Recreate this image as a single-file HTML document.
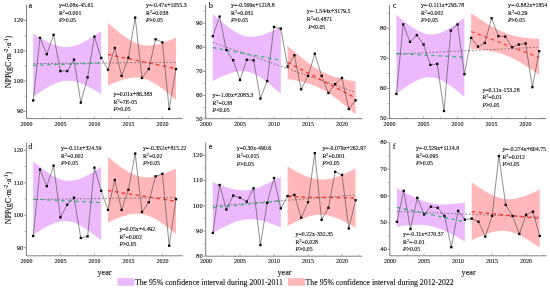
<!DOCTYPE html>
<html><head><meta charset="utf-8"><style>
html,body{margin:0;padding:0;background:#fff;}
svg{display:block;filter:blur(0.35px);}
text{font-family:"Liberation Serif",serif;fill:#111;stroke:#111;stroke-width:0.12px;}
.t{font-size:5.85px;}
.sup{font-size:4.2px;}
.sup2{font-size:5.2px;}
.tk{font-size:6px;fill:#111;}
.tky{font-size:6.6px;fill:#111;}
.lab{font-size:8.4px;}
.yt{font-size:7.9px;}
.yr{font-size:8.2px;}
.lg{font-size:8.1px;}
</style></head><body>
<svg width="550" height="290" viewBox="0 0 550 290">
<rect width="550" height="290" fill="#fff"/>
<path d="M33.20,33.60 L34.90,34.66 L36.60,35.70 L38.30,36.72 L40.00,37.72 L41.70,38.70 L43.40,39.65 L45.10,40.56 L46.80,41.44 L48.50,42.28 L50.20,43.07 L51.90,43.81 L53.60,44.50 L55.30,45.12 L57.00,45.67 L58.70,46.14 L60.40,46.53 L62.10,46.82 L63.80,47.02 L65.50,47.11 L67.20,47.10 L68.90,46.98 L70.60,46.76 L72.30,46.43 L74.00,46.01 L75.70,45.49 L77.40,44.89 L79.10,44.21 L80.80,43.46 L82.50,42.64 L84.20,41.77 L85.90,40.85 L87.60,39.88 L89.30,38.87 L91.00,37.83 L92.70,36.75 L94.40,35.64 L96.10,34.51 L97.80,33.36 L99.50,32.19 L101.20,31.00 L101.20,94.20 L99.50,93.14 L97.80,92.10 L96.10,91.08 L94.40,90.08 L92.70,89.10 L91.00,88.15 L89.30,87.24 L87.60,86.36 L85.90,85.52 L84.20,84.73 L82.50,83.99 L80.80,83.30 L79.10,82.68 L77.40,82.13 L75.70,81.66 L74.00,81.27 L72.30,80.98 L70.60,80.78 L68.90,80.69 L67.20,80.70 L65.50,80.82 L63.80,81.04 L62.10,81.37 L60.40,81.79 L58.70,82.31 L57.00,82.91 L55.30,83.59 L53.60,84.34 L51.90,85.16 L50.20,86.03 L48.50,86.95 L46.80,87.92 L45.10,88.93 L43.40,89.97 L41.70,91.05 L40.00,92.16 L38.30,93.29 L36.60,94.44 L34.90,95.61 L33.20,96.80Z" fill="#ecb9fc"/>
<path d="M108.00,23.00 L109.70,24.48 L111.40,25.95 L113.10,27.39 L114.80,28.81 L116.50,30.21 L118.20,31.58 L119.90,32.92 L121.60,34.23 L123.30,35.49 L125.00,36.71 L126.70,37.88 L128.40,38.99 L130.10,40.04 L131.80,41.01 L133.50,41.91 L135.20,42.72 L136.90,43.44 L138.60,44.07 L140.30,44.59 L142.00,45.00 L143.70,45.31 L145.40,45.51 L147.10,45.60 L148.80,45.60 L150.50,45.51 L152.20,45.33 L153.90,45.08 L155.60,44.75 L157.30,44.36 L159.00,43.91 L160.70,43.41 L162.40,42.87 L164.10,42.28 L165.80,41.66 L167.50,41.01 L169.20,40.33 L170.90,39.63 L172.60,38.91 L174.30,38.16 L176.00,37.40 L176.00,100.00 L174.30,98.52 L172.60,97.05 L170.90,95.61 L169.20,94.19 L167.50,92.79 L165.80,91.42 L164.10,90.08 L162.40,88.77 L160.70,87.51 L159.00,86.29 L157.30,85.12 L155.60,84.01 L153.90,82.96 L152.20,81.99 L150.50,81.09 L148.80,80.28 L147.10,79.56 L145.40,78.93 L143.70,78.41 L142.00,78.00 L140.30,77.69 L138.60,77.49 L136.90,77.40 L135.20,77.40 L133.50,77.49 L131.80,77.67 L130.10,77.92 L128.40,78.25 L126.70,78.64 L125.00,79.09 L123.30,79.59 L121.60,80.13 L119.90,80.72 L118.20,81.34 L116.50,81.99 L114.80,82.67 L113.10,83.37 L111.40,84.09 L109.70,84.84 L108.00,85.60Z" fill="#ffb7b9"/>
<path d="M26.50,5.00 V118.60 H182.80" fill="none" stroke="#808080" stroke-width="1"/>
<path d="M26.00,111.30 h-2" stroke="#808080" stroke-width="0.8"/>
<text x="23.50" y="113.10" class="tky" text-anchor="end">90</text>
<path d="M26.00,81.00 h-2" stroke="#808080" stroke-width="0.8"/>
<text x="23.50" y="82.80" class="tky" text-anchor="end">100</text>
<path d="M26.00,50.80 h-2" stroke="#808080" stroke-width="0.8"/>
<text x="23.50" y="52.60" class="tky" text-anchor="end">110</text>
<path d="M26.00,20.50 h-2" stroke="#808080" stroke-width="0.8"/>
<text x="23.50" y="22.30" class="tky" text-anchor="end">120</text>
<path d="M26.00,96.20 h-1.3" stroke="#808080" stroke-width="0.7"/>
<path d="M26.00,65.90 h-1.3" stroke="#808080" stroke-width="0.7"/>
<path d="M26.00,35.60 h-1.3" stroke="#808080" stroke-width="0.7"/>
<path d="M26.40,118.10 v-1.6" stroke="#808080" stroke-width="0.7"/>
<text x="26.40" y="125.60" class="tk" text-anchor="middle">2000</text>
<path d="M60.40,118.10 v-1.6" stroke="#808080" stroke-width="0.7"/>
<text x="60.40" y="125.60" class="tk" text-anchor="middle">2005</text>
<path d="M94.40,118.10 v-1.6" stroke="#808080" stroke-width="0.7"/>
<text x="94.40" y="125.60" class="tk" text-anchor="middle">2010</text>
<path d="M128.40,118.10 v-1.6" stroke="#808080" stroke-width="0.7"/>
<text x="128.40" y="125.60" class="tk" text-anchor="middle">2015</text>
<path d="M162.40,118.10 v-1.6" stroke="#808080" stroke-width="0.7"/>
<text x="162.40" y="125.60" class="tk" text-anchor="middle">2020</text>
<path d="M43.40,118.10 v-1.1" stroke="#808080" stroke-width="0.6"/>
<path d="M77.40,118.10 v-1.1" stroke="#808080" stroke-width="0.6"/>
<path d="M111.40,118.10 v-1.1" stroke="#808080" stroke-width="0.6"/>
<path d="M145.40,118.10 v-1.1" stroke="#808080" stroke-width="0.6"/>
<path d="M179.40,118.10 v-1.1" stroke="#808080" stroke-width="0.6"/>
<line x1="33.20" y1="63.60" x2="176.00" y2="62.40" stroke="#555" stroke-width="0.7" stroke-dasharray="1.8,1.8"/>
<line x1="33.20" y1="65.30" x2="101.20" y2="63.00" stroke="#3cb371" stroke-width="1.3" stroke-dasharray="3.5,3.5"/>
<line x1="108.00" y1="54.40" x2="176.00" y2="68.60" stroke="#ff2a2a" stroke-width="1.3" stroke-dasharray="3.5,3.5"/>
<polyline points="33.20,100.50 40.00,37.90 46.80,54.20 53.60,34.80 60.40,71.10 67.20,71.10 74.00,59.60 80.80,102.60 87.60,77.30 94.40,36.60 101.20,57.90 108.00,69.70 114.80,48.00 121.60,75.90 128.40,57.70 135.20,17.60 142.00,77.90 148.80,69.00 155.60,39.30 162.40,42.40 169.20,109.00 176.00,69.00" fill="none" stroke="#444" stroke-width="0.6"/>
<rect x="32.05" y="99.35" width="2.3" height="2.3" fill="#000"/>
<rect x="38.85" y="36.75" width="2.3" height="2.3" fill="#000"/>
<rect x="45.65" y="53.05" width="2.3" height="2.3" fill="#000"/>
<rect x="52.45" y="33.65" width="2.3" height="2.3" fill="#000"/>
<rect x="59.25" y="69.95" width="2.3" height="2.3" fill="#000"/>
<rect x="66.05" y="69.95" width="2.3" height="2.3" fill="#000"/>
<rect x="72.85" y="58.45" width="2.3" height="2.3" fill="#000"/>
<rect x="79.65" y="101.45" width="2.3" height="2.3" fill="#000"/>
<rect x="86.45" y="76.15" width="2.3" height="2.3" fill="#000"/>
<rect x="93.25" y="35.45" width="2.3" height="2.3" fill="#000"/>
<rect x="100.05" y="56.75" width="2.3" height="2.3" fill="#000"/>
<rect x="106.85" y="68.55" width="2.3" height="2.3" fill="#000"/>
<rect x="113.65" y="46.85" width="2.3" height="2.3" fill="#000"/>
<rect x="120.45" y="74.75" width="2.3" height="2.3" fill="#000"/>
<rect x="127.25" y="56.55" width="2.3" height="2.3" fill="#000"/>
<rect x="134.05" y="16.45" width="2.3" height="2.3" fill="#000"/>
<rect x="140.85" y="76.75" width="2.3" height="2.3" fill="#000"/>
<rect x="147.65" y="67.85" width="2.3" height="2.3" fill="#000"/>
<rect x="154.45" y="38.15" width="2.3" height="2.3" fill="#000"/>
<rect x="161.25" y="41.25" width="2.3" height="2.3" fill="#000"/>
<rect x="168.05" y="107.85" width="2.3" height="2.3" fill="#000"/>
<rect x="174.85" y="67.85" width="2.3" height="2.3" fill="#000"/>
<text x="28.60" y="8.10" class="lab">a</text>
<text x="58.9" y="6.8" class="t">y=0.08x-45.61</text>
<text x="58.9" y="14.7" class="t">R<tspan class="sup" dy="-2">2</tspan><tspan dy="2">=0.001</tspan></text>
<text x="58.9" y="22.1" class="t"><tspan font-style="italic">P</tspan>&gt;0.05</text>
<text x="145.9" y="6.8" class="t">y=-0.47x+1055.3</text>
<text x="145.9" y="14.7" class="t">R<tspan class="sup" dy="-2">2</tspan><tspan dy="2">=0.038</tspan></text>
<text x="145.9" y="22.1" class="t"><tspan font-style="italic">P</tspan>&gt;0.05</text>
<text x="113.5" y="95.6" class="t">y=0.01x+86.383</text>
<text x="113.5" y="103.5" class="t">R<tspan class="sup" dy="-2">2</tspan><tspan dy="2">=7E-05</tspan></text>
<text x="113.5" y="110.9" class="t"><tspan font-style="italic">P</tspan>&gt;0.05</text>
<path d="M212.80,14.10 L214.50,15.62 L216.20,17.12 L217.90,18.61 L219.60,20.06 L221.30,21.50 L223.00,22.90 L224.70,24.27 L226.40,25.60 L228.10,26.89 L229.80,28.13 L231.50,29.31 L233.20,30.44 L234.90,31.50 L236.60,32.48 L238.30,33.37 L240.00,34.18 L241.70,34.89 L243.40,35.49 L245.10,35.97 L246.80,36.35 L248.50,36.61 L250.20,36.76 L251.90,36.79 L253.60,36.72 L255.30,36.55 L257.00,36.29 L258.70,35.94 L260.40,35.52 L262.10,35.03 L263.80,34.48 L265.50,33.87 L267.20,33.22 L268.90,32.52 L270.60,31.79 L272.30,31.02 L274.00,30.22 L275.70,29.40 L277.40,28.55 L279.10,27.69 L280.80,26.80 L280.80,93.80 L279.10,92.28 L277.40,90.78 L275.70,89.29 L274.00,87.84 L272.30,86.40 L270.60,85.00 L268.90,83.63 L267.20,82.30 L265.50,81.01 L263.80,79.77 L262.10,78.59 L260.40,77.46 L258.70,76.40 L257.00,75.42 L255.30,74.53 L253.60,73.72 L251.90,73.01 L250.20,72.41 L248.50,71.93 L246.80,71.55 L245.10,71.29 L243.40,71.14 L241.70,71.11 L240.00,71.18 L238.30,71.35 L236.60,71.61 L234.90,71.96 L233.20,72.38 L231.50,72.87 L229.80,73.42 L228.10,74.03 L226.40,74.68 L224.70,75.38 L223.00,76.11 L221.30,76.88 L219.60,77.68 L217.90,78.50 L216.20,79.35 L214.50,80.21 L212.80,81.10Z" fill="#ecb9fc"/>
<path d="M287.60,45.90 L289.30,47.38 L291.00,48.84 L292.70,50.30 L294.40,51.74 L296.10,53.17 L297.80,54.59 L299.50,55.99 L301.20,57.37 L302.90,58.73 L304.60,60.07 L306.30,61.38 L308.00,62.66 L309.70,63.91 L311.40,65.11 L313.10,66.28 L314.80,67.41 L316.50,68.48 L318.20,69.51 L319.90,70.48 L321.60,71.40 L323.30,72.26 L325.00,73.07 L326.70,73.82 L328.40,74.53 L330.10,75.18 L331.80,75.79 L333.50,76.37 L335.20,76.90 L336.90,77.40 L338.60,77.87 L340.30,78.31 L342.00,78.73 L343.70,79.13 L345.40,79.51 L347.10,79.87 L348.80,80.22 L350.50,80.56 L352.20,80.88 L353.90,81.20 L355.60,81.50 L355.60,114.50 L353.90,113.02 L352.20,111.56 L350.50,110.10 L348.80,108.66 L347.10,107.23 L345.40,105.81 L343.70,104.41 L342.00,103.03 L340.30,101.67 L338.60,100.33 L336.90,99.02 L335.20,97.74 L333.50,96.50 L331.80,95.29 L330.10,94.12 L328.40,92.99 L326.70,91.92 L325.00,90.89 L323.30,89.92 L321.60,89.00 L319.90,88.14 L318.20,87.33 L316.50,86.58 L314.80,85.87 L313.10,85.22 L311.40,84.61 L309.70,84.03 L308.00,83.50 L306.30,83.00 L304.60,82.53 L302.90,82.09 L301.20,81.67 L299.50,81.27 L297.80,80.89 L296.10,80.53 L294.40,80.18 L292.70,79.84 L291.00,79.52 L289.30,79.20 L287.60,78.90Z" fill="#ffb7b9"/>
<path d="M205.60,5.00 V118.70 H362.40" fill="none" stroke="#808080" stroke-width="1"/>
<path d="M205.10,118.90 h-2" stroke="#808080" stroke-width="0.8"/>
<text x="202.60" y="120.70" class="tky" text-anchor="end">50</text>
<path d="M205.10,95.50 h-2" stroke="#808080" stroke-width="0.8"/>
<text x="202.60" y="97.30" class="tky" text-anchor="end">60</text>
<path d="M205.10,71.40 h-2" stroke="#808080" stroke-width="0.8"/>
<text x="202.60" y="73.20" class="tky" text-anchor="end">70</text>
<path d="M205.10,47.30 h-2" stroke="#808080" stroke-width="0.8"/>
<text x="202.60" y="49.10" class="tky" text-anchor="end">80</text>
<path d="M205.10,23.20 h-2" stroke="#808080" stroke-width="0.8"/>
<text x="202.60" y="25.00" class="tky" text-anchor="end">90</text>
<path d="M205.10,107.50 h-1.3" stroke="#808080" stroke-width="0.7"/>
<path d="M205.10,83.40 h-1.3" stroke="#808080" stroke-width="0.7"/>
<path d="M205.10,59.30 h-1.3" stroke="#808080" stroke-width="0.7"/>
<path d="M205.10,35.20 h-1.3" stroke="#808080" stroke-width="0.7"/>
<path d="M205.10,11.10 h-1.3" stroke="#808080" stroke-width="0.7"/>
<path d="M206.00,118.20 v-1.6" stroke="#808080" stroke-width="0.7"/>
<text x="206.00" y="125.70" class="tk" text-anchor="middle">2000</text>
<path d="M240.00,118.20 v-1.6" stroke="#808080" stroke-width="0.7"/>
<text x="240.00" y="125.70" class="tk" text-anchor="middle">2005</text>
<path d="M274.00,118.20 v-1.6" stroke="#808080" stroke-width="0.7"/>
<text x="274.00" y="125.70" class="tk" text-anchor="middle">2010</text>
<path d="M308.00,118.20 v-1.6" stroke="#808080" stroke-width="0.7"/>
<text x="308.00" y="125.70" class="tk" text-anchor="middle">2015</text>
<path d="M342.00,118.20 v-1.6" stroke="#808080" stroke-width="0.7"/>
<text x="342.00" y="125.70" class="tk" text-anchor="middle">2020</text>
<path d="M223.00,118.20 v-1.1" stroke="#808080" stroke-width="0.6"/>
<path d="M257.00,118.20 v-1.1" stroke="#808080" stroke-width="0.6"/>
<path d="M291.00,118.20 v-1.1" stroke="#808080" stroke-width="0.6"/>
<path d="M325.00,118.20 v-1.1" stroke="#808080" stroke-width="0.6"/>
<path d="M359.00,118.20 v-1.1" stroke="#808080" stroke-width="0.6"/>
<line x1="212.80" y1="42.40" x2="355.60" y2="92.40" stroke="#555" stroke-width="0.7" stroke-dasharray="1.8,1.8"/>
<line x1="212.80" y1="47.60" x2="280.80" y2="60.30" stroke="#3cb371" stroke-width="1.3" stroke-dasharray="3.5,3.5"/>
<line x1="287.60" y1="62.40" x2="355.60" y2="98.00" stroke="#ff2a2a" stroke-width="1.3" stroke-dasharray="3.5,3.5"/>
<polyline points="212.80,36.20 219.60,16.60 226.40,50.00 233.20,60.30 240.00,80.00 246.80,59.70 253.60,60.30 260.40,98.60 267.20,81.00 274.00,26.90 280.80,28.60 287.60,66.60 294.40,55.20 301.20,89.30 308.00,75.90 314.80,53.70 321.60,75.90 328.40,93.00 335.20,84.10 342.00,77.90 348.80,109.00 355.60,100.30" fill="none" stroke="#444" stroke-width="0.6"/>
<rect x="211.65" y="35.05" width="2.3" height="2.3" fill="#000"/>
<rect x="218.45" y="15.45" width="2.3" height="2.3" fill="#000"/>
<rect x="225.25" y="48.85" width="2.3" height="2.3" fill="#000"/>
<rect x="232.05" y="59.15" width="2.3" height="2.3" fill="#000"/>
<rect x="238.85" y="78.85" width="2.3" height="2.3" fill="#000"/>
<rect x="245.65" y="58.55" width="2.3" height="2.3" fill="#000"/>
<rect x="252.45" y="59.15" width="2.3" height="2.3" fill="#000"/>
<rect x="259.25" y="97.45" width="2.3" height="2.3" fill="#000"/>
<rect x="266.05" y="79.85" width="2.3" height="2.3" fill="#000"/>
<rect x="272.85" y="25.75" width="2.3" height="2.3" fill="#000"/>
<rect x="279.65" y="27.45" width="2.3" height="2.3" fill="#000"/>
<rect x="286.45" y="65.45" width="2.3" height="2.3" fill="#000"/>
<rect x="293.25" y="54.05" width="2.3" height="2.3" fill="#000"/>
<rect x="300.05" y="88.15" width="2.3" height="2.3" fill="#000"/>
<rect x="306.85" y="74.75" width="2.3" height="2.3" fill="#000"/>
<rect x="313.65" y="52.55" width="2.3" height="2.3" fill="#000"/>
<rect x="320.45" y="74.75" width="2.3" height="2.3" fill="#000"/>
<rect x="327.25" y="91.85" width="2.3" height="2.3" fill="#000"/>
<rect x="334.05" y="82.95" width="2.3" height="2.3" fill="#000"/>
<rect x="340.85" y="76.75" width="2.3" height="2.3" fill="#000"/>
<rect x="347.65" y="107.85" width="2.3" height="2.3" fill="#000"/>
<rect x="354.45" y="99.15" width="2.3" height="2.3" fill="#000"/>
<text x="208.70" y="7.50" class="lab">b</text>
<text x="231.0" y="6.8" class="t">y=-0.569x+1218.8</text>
<text x="231.0" y="14.7" class="t">R<tspan class="sup" dy="-2">2</tspan><tspan dy="2">=0.031</tspan></text>
<text x="231.0" y="22.1" class="t"><tspan font-style="italic">P</tspan>&gt;0.05</text>
<text x="306.8" y="13.2" class="t">y=-1.544x+3179.5</text>
<text x="306.8" y="21.1" class="t">R<tspan class="sup" dy="-2">2</tspan><tspan dy="2">=0.4871</tspan></text>
<text x="308.2" y="28.5" class="t"><tspan font-style="italic">P</tspan>&lt;0.05</text>
<text x="212.6" y="96.7" class="t">y=-1.00x+2083.3</text>
<text x="212.6" y="104.6" class="t">R<tspan class="sup" dy="-2">2</tspan><tspan dy="2">=0.38</tspan></text>
<text x="212.6" y="112.0" class="t"><tspan font-style="italic">P</tspan>&lt;0.05</text>
<path d="M396.40,14.80 L398.10,16.26 L399.80,17.70 L401.50,19.12 L403.20,20.51 L404.90,21.86 L406.60,23.18 L408.30,24.46 L410.00,25.69 L411.70,26.88 L413.40,28.00 L415.10,29.07 L416.80,30.06 L418.50,30.97 L420.20,31.80 L421.90,32.52 L423.60,33.15 L425.30,33.66 L427.00,34.05 L428.70,34.31 L430.40,34.45 L432.10,34.46 L433.80,34.34 L435.50,34.09 L437.20,33.73 L438.90,33.25 L440.60,32.67 L442.30,31.99 L444.00,31.22 L445.70,30.37 L447.40,29.45 L449.10,28.47 L450.80,27.43 L452.50,26.35 L454.20,25.21 L455.90,24.04 L457.60,22.83 L459.30,21.58 L461.00,20.31 L462.70,19.02 L464.40,17.70 L464.40,96.90 L462.70,95.44 L461.00,94.00 L459.30,92.58 L457.60,91.19 L455.90,89.84 L454.20,88.52 L452.50,87.24 L450.80,86.01 L449.10,84.82 L447.40,83.70 L445.70,82.63 L444.00,81.64 L442.30,80.73 L440.60,79.90 L438.90,79.18 L437.20,78.55 L435.50,78.04 L433.80,77.65 L432.10,77.39 L430.40,77.25 L428.70,77.24 L427.00,77.36 L425.30,77.61 L423.60,77.97 L421.90,78.45 L420.20,79.03 L418.50,79.71 L416.80,80.48 L415.10,81.33 L413.40,82.25 L411.70,83.23 L410.00,84.27 L408.30,85.35 L406.60,86.49 L404.90,87.66 L403.20,88.87 L401.50,90.12 L399.80,91.39 L398.10,92.68 L396.40,94.00Z" fill="#ecb9fc"/>
<path d="M471.20,13.00 L472.90,14.21 L474.60,15.41 L476.30,16.59 L478.00,17.76 L479.70,18.91 L481.40,20.05 L483.10,21.17 L484.80,22.27 L486.50,23.34 L488.20,24.39 L489.90,25.42 L491.60,26.41 L493.30,27.37 L495.00,28.30 L496.70,29.19 L498.40,30.04 L500.10,30.84 L501.80,31.61 L503.50,32.33 L505.20,33.00 L506.90,33.63 L508.60,34.21 L510.30,34.74 L512.00,35.24 L513.70,35.69 L515.40,36.10 L517.10,36.47 L518.80,36.81 L520.50,37.12 L522.20,37.39 L523.90,37.64 L525.60,37.87 L527.30,38.07 L529.00,38.25 L530.70,38.41 L532.40,38.56 L534.10,38.69 L535.80,38.81 L537.50,38.91 L539.20,39.00 L539.20,75.00 L537.50,73.79 L535.80,72.59 L534.10,71.41 L532.40,70.24 L530.70,69.09 L529.00,67.95 L527.30,66.83 L525.60,65.73 L523.90,64.66 L522.20,63.61 L520.50,62.58 L518.80,61.59 L517.10,60.63 L515.40,59.70 L513.70,58.81 L512.00,57.96 L510.30,57.16 L508.60,56.39 L506.90,55.67 L505.20,55.00 L503.50,54.37 L501.80,53.79 L500.10,53.26 L498.40,52.76 L496.70,52.31 L495.00,51.90 L493.30,51.53 L491.60,51.19 L489.90,50.88 L488.20,50.61 L486.50,50.36 L484.80,50.13 L483.10,49.93 L481.40,49.75 L479.70,49.59 L478.00,49.44 L476.30,49.31 L474.60,49.19 L472.90,49.09 L471.20,49.00Z" fill="#ffb7b9"/>
<path d="M389.50,5.00 V118.60 H546.00" fill="none" stroke="#808080" stroke-width="1"/>
<path d="M389.00,118.60 h-2" stroke="#808080" stroke-width="0.8"/>
<text x="386.50" y="120.40" class="tky" text-anchor="end">50</text>
<path d="M389.00,88.50 h-2" stroke="#808080" stroke-width="0.8"/>
<text x="386.50" y="90.30" class="tky" text-anchor="end">60</text>
<path d="M389.00,58.40 h-2" stroke="#808080" stroke-width="0.8"/>
<text x="386.50" y="60.20" class="tky" text-anchor="end">70</text>
<path d="M389.00,28.30 h-2" stroke="#808080" stroke-width="0.8"/>
<text x="386.50" y="30.10" class="tky" text-anchor="end">80</text>
<path d="M389.00,103.60 h-1.3" stroke="#808080" stroke-width="0.7"/>
<path d="M389.00,73.50 h-1.3" stroke="#808080" stroke-width="0.7"/>
<path d="M389.00,43.40 h-1.3" stroke="#808080" stroke-width="0.7"/>
<path d="M389.00,13.20 h-1.3" stroke="#808080" stroke-width="0.7"/>
<path d="M389.60,118.10 v-1.6" stroke="#808080" stroke-width="0.7"/>
<text x="389.60" y="125.60" class="tk" text-anchor="middle">2000</text>
<path d="M423.60,118.10 v-1.6" stroke="#808080" stroke-width="0.7"/>
<text x="423.60" y="125.60" class="tk" text-anchor="middle">2005</text>
<path d="M457.60,118.10 v-1.6" stroke="#808080" stroke-width="0.7"/>
<text x="457.60" y="125.60" class="tk" text-anchor="middle">2010</text>
<path d="M491.60,118.10 v-1.6" stroke="#808080" stroke-width="0.7"/>
<text x="491.60" y="125.60" class="tk" text-anchor="middle">2015</text>
<path d="M525.60,118.10 v-1.6" stroke="#808080" stroke-width="0.7"/>
<text x="525.60" y="125.60" class="tk" text-anchor="middle">2020</text>
<path d="M406.60,118.10 v-1.1" stroke="#808080" stroke-width="0.6"/>
<path d="M440.60,118.10 v-1.1" stroke="#808080" stroke-width="0.6"/>
<path d="M474.60,118.10 v-1.1" stroke="#808080" stroke-width="0.6"/>
<path d="M508.60,118.10 v-1.1" stroke="#808080" stroke-width="0.6"/>
<path d="M542.60,118.10 v-1.1" stroke="#808080" stroke-width="0.6"/>
<line x1="396.40" y1="54.10" x2="539.20" y2="47.20" stroke="#555" stroke-width="0.7" stroke-dasharray="1.8,1.8"/>
<line x1="396.40" y1="53.50" x2="464.40" y2="57.20" stroke="#3cb371" stroke-width="1.3" stroke-dasharray="3.5,3.5"/>
<line x1="471.20" y1="31.50" x2="539.20" y2="57.50" stroke="#ff2a2a" stroke-width="1.3" stroke-dasharray="3.5,3.5"/>
<polyline points="396.40,93.90 403.20,24.40 410.00,41.80 416.80,35.20 423.60,44.50 430.40,64.90 437.20,63.90 444.00,111.00 450.80,30.60 457.60,24.40 464.40,74.20 471.20,37.90 478.00,46.60 484.80,43.00 491.60,18.20 498.40,36.20 505.20,36.60 512.00,47.20 518.80,44.50 525.60,43.50 532.40,87.20 539.20,51.20" fill="none" stroke="#444" stroke-width="0.6"/>
<rect x="395.25" y="92.75" width="2.3" height="2.3" fill="#000"/>
<rect x="402.05" y="23.25" width="2.3" height="2.3" fill="#000"/>
<rect x="408.85" y="40.65" width="2.3" height="2.3" fill="#000"/>
<rect x="415.65" y="34.05" width="2.3" height="2.3" fill="#000"/>
<rect x="422.45" y="43.35" width="2.3" height="2.3" fill="#000"/>
<rect x="429.25" y="63.75" width="2.3" height="2.3" fill="#000"/>
<rect x="436.05" y="62.75" width="2.3" height="2.3" fill="#000"/>
<rect x="442.85" y="109.85" width="2.3" height="2.3" fill="#000"/>
<rect x="449.65" y="29.45" width="2.3" height="2.3" fill="#000"/>
<rect x="456.45" y="23.25" width="2.3" height="2.3" fill="#000"/>
<rect x="463.25" y="73.05" width="2.3" height="2.3" fill="#000"/>
<rect x="470.05" y="36.75" width="2.3" height="2.3" fill="#000"/>
<rect x="476.85" y="45.45" width="2.3" height="2.3" fill="#000"/>
<rect x="483.65" y="41.85" width="2.3" height="2.3" fill="#000"/>
<rect x="490.45" y="17.05" width="2.3" height="2.3" fill="#000"/>
<rect x="497.25" y="35.05" width="2.3" height="2.3" fill="#000"/>
<rect x="504.05" y="35.45" width="2.3" height="2.3" fill="#000"/>
<rect x="510.85" y="46.05" width="2.3" height="2.3" fill="#000"/>
<rect x="517.65" y="43.35" width="2.3" height="2.3" fill="#000"/>
<rect x="524.45" y="42.35" width="2.3" height="2.3" fill="#000"/>
<rect x="531.25" y="86.05" width="2.3" height="2.3" fill="#000"/>
<rect x="538.05" y="50.05" width="2.3" height="2.3" fill="#000"/>
<text x="392.70" y="7.50" class="lab">c</text>
<text x="420.9" y="6.8" class="t">y=-0.111x+293.78</text>
<text x="420.9" y="14.7" class="t">R<tspan class="sup" dy="-2">2</tspan><tspan dy="2">=0.002</tspan></text>
<text x="420.9" y="22.1" class="t"><tspan font-style="italic">P</tspan>&gt;0.05</text>
<text x="508.0" y="6.9" class="t">y=-0.882x+1854</text>
<text x="508.0" y="14.8" class="t">R<tspan class="sup" dy="-2">2</tspan><tspan dy="2">=0.29</tspan></text>
<text x="508.0" y="22.2" class="t"><tspan font-style="italic">P</tspan>&gt;0.05</text>
<text x="482.4" y="91.5" class="t">y=0.11x-153.28</text>
<text x="482.4" y="99.4" class="t">R<tspan class="sup" dy="-2">2</tspan><tspan dy="2">=0.01</tspan></text>
<text x="482.4" y="106.8" class="t"><tspan font-style="italic">P</tspan>&gt;0.05</text>
<path d="M33.20,161.30 L34.90,162.72 L36.60,164.11 L38.30,165.48 L40.00,166.83 L41.70,168.14 L43.40,169.42 L45.10,170.67 L46.80,171.87 L48.50,173.02 L50.20,174.12 L51.90,175.17 L53.60,176.14 L55.30,177.05 L57.00,177.87 L58.70,178.60 L60.40,179.24 L62.10,179.77 L63.80,180.20 L65.50,180.51 L67.20,180.70 L68.90,180.78 L70.60,180.74 L72.30,180.58 L74.00,180.32 L75.70,179.95 L77.40,179.49 L79.10,178.94 L80.80,178.30 L82.50,177.60 L84.20,176.82 L85.90,175.99 L87.60,175.11 L89.30,174.18 L91.00,173.20 L92.70,172.19 L94.40,171.15 L96.10,170.07 L97.80,168.97 L99.50,167.85 L101.20,166.70 L101.20,240.50 L99.50,239.08 L97.80,237.69 L96.10,236.32 L94.40,234.97 L92.70,233.66 L91.00,232.38 L89.30,231.13 L87.60,229.93 L85.90,228.78 L84.20,227.68 L82.50,226.63 L80.80,225.66 L79.10,224.75 L77.40,223.93 L75.70,223.20 L74.00,222.56 L72.30,222.03 L70.60,221.60 L68.90,221.29 L67.20,221.10 L65.50,221.02 L63.80,221.06 L62.10,221.22 L60.40,221.48 L58.70,221.85 L57.00,222.31 L55.30,222.86 L53.60,223.50 L51.90,224.20 L50.20,224.98 L48.50,225.81 L46.80,226.69 L45.10,227.62 L43.40,228.60 L41.70,229.61 L40.00,230.65 L38.30,231.73 L36.60,232.83 L34.90,233.95 L33.20,235.10Z" fill="#ecb9fc"/>
<path d="M108.00,157.00 L109.70,158.39 L111.40,159.76 L113.10,161.10 L114.80,162.43 L116.50,163.72 L118.20,164.98 L119.90,166.22 L121.60,167.41 L123.30,168.56 L125.00,169.66 L126.70,170.71 L128.40,171.71 L130.10,172.64 L131.80,173.50 L133.50,174.29 L135.20,174.99 L136.90,175.61 L138.60,176.13 L140.30,176.57 L142.00,176.90 L143.70,177.14 L145.40,177.27 L147.10,177.32 L148.80,177.27 L150.50,177.14 L152.20,176.92 L153.90,176.63 L155.60,176.27 L157.30,175.84 L159.00,175.36 L160.70,174.83 L162.40,174.25 L164.10,173.63 L165.80,172.96 L167.50,172.27 L169.20,171.55 L170.90,170.79 L172.60,170.02 L174.30,169.22 L176.00,168.40 L176.00,234.00 L174.30,232.61 L172.60,231.24 L170.90,229.90 L169.20,228.57 L167.50,227.28 L165.80,226.02 L164.10,224.78 L162.40,223.59 L160.70,222.44 L159.00,221.34 L157.30,220.29 L155.60,219.29 L153.90,218.36 L152.20,217.50 L150.50,216.71 L148.80,216.01 L147.10,215.39 L145.40,214.87 L143.70,214.43 L142.00,214.10 L140.30,213.86 L138.60,213.73 L136.90,213.68 L135.20,213.73 L133.50,213.86 L131.80,214.08 L130.10,214.37 L128.40,214.73 L126.70,215.16 L125.00,215.64 L123.30,216.17 L121.60,216.75 L119.90,217.37 L118.20,218.04 L116.50,218.73 L114.80,219.45 L113.10,220.21 L111.40,220.98 L109.70,221.78 L108.00,222.60Z" fill="#ffb7b9"/>
<path d="M26.40,142.50 V255.80 H182.80" fill="none" stroke="#808080" stroke-width="1"/>
<path d="M25.90,247.70 h-2" stroke="#808080" stroke-width="0.8"/>
<text x="23.40" y="249.50" class="tky" text-anchor="end">90</text>
<path d="M25.90,215.20 h-2" stroke="#808080" stroke-width="0.8"/>
<text x="23.40" y="217.00" class="tky" text-anchor="end">100</text>
<path d="M25.90,182.80 h-2" stroke="#808080" stroke-width="0.8"/>
<text x="23.40" y="184.60" class="tky" text-anchor="end">110</text>
<path d="M25.90,150.30 h-2" stroke="#808080" stroke-width="0.8"/>
<text x="23.40" y="152.10" class="tky" text-anchor="end">120</text>
<path d="M25.90,231.50 h-1.3" stroke="#808080" stroke-width="0.7"/>
<path d="M25.90,199.00 h-1.3" stroke="#808080" stroke-width="0.7"/>
<path d="M25.90,166.50 h-1.3" stroke="#808080" stroke-width="0.7"/>
<path d="M26.40,255.30 v-1.6" stroke="#808080" stroke-width="0.7"/>
<text x="26.40" y="262.80" class="tk" text-anchor="middle">2000</text>
<path d="M60.40,255.30 v-1.6" stroke="#808080" stroke-width="0.7"/>
<text x="60.40" y="262.80" class="tk" text-anchor="middle">2005</text>
<path d="M94.40,255.30 v-1.6" stroke="#808080" stroke-width="0.7"/>
<text x="94.40" y="262.80" class="tk" text-anchor="middle">2010</text>
<path d="M128.40,255.30 v-1.6" stroke="#808080" stroke-width="0.7"/>
<text x="128.40" y="262.80" class="tk" text-anchor="middle">2015</text>
<path d="M162.40,255.30 v-1.6" stroke="#808080" stroke-width="0.7"/>
<text x="162.40" y="262.80" class="tk" text-anchor="middle">2020</text>
<path d="M43.40,255.30 v-1.1" stroke="#808080" stroke-width="0.6"/>
<path d="M77.40,255.30 v-1.1" stroke="#808080" stroke-width="0.6"/>
<path d="M111.40,255.30 v-1.1" stroke="#808080" stroke-width="0.6"/>
<path d="M145.40,255.30 v-1.1" stroke="#808080" stroke-width="0.6"/>
<path d="M179.40,255.30 v-1.1" stroke="#808080" stroke-width="0.6"/>
<line x1="33.20" y1="199.50" x2="176.00" y2="197.50" stroke="#555" stroke-width="0.7" stroke-dasharray="1.8,1.8"/>
<line x1="33.20" y1="199.10" x2="101.20" y2="202.70" stroke="#3cb371" stroke-width="1.3" stroke-dasharray="3.5,3.5"/>
<line x1="108.00" y1="190.60" x2="176.00" y2="201.20" stroke="#ff2a2a" stroke-width="1.3" stroke-dasharray="3.5,3.5"/>
<polyline points="33.20,236.00 40.00,169.50 46.80,186.20 53.60,165.60 60.40,217.30 67.20,204.70 74.00,197.70 80.80,238.00 87.60,236.40 94.40,167.60 101.20,190.80 108.00,209.90 114.80,180.00 121.60,209.90 128.40,189.80 135.20,153.60 142.00,212.00 148.80,202.20 155.60,176.30 162.40,173.80 169.20,245.70 176.00,199.10" fill="none" stroke="#444" stroke-width="0.6"/>
<rect x="32.05" y="234.85" width="2.3" height="2.3" fill="#000"/>
<rect x="38.85" y="168.35" width="2.3" height="2.3" fill="#000"/>
<rect x="45.65" y="185.05" width="2.3" height="2.3" fill="#000"/>
<rect x="52.45" y="164.45" width="2.3" height="2.3" fill="#000"/>
<rect x="59.25" y="216.15" width="2.3" height="2.3" fill="#000"/>
<rect x="66.05" y="203.55" width="2.3" height="2.3" fill="#000"/>
<rect x="72.85" y="196.55" width="2.3" height="2.3" fill="#000"/>
<rect x="79.65" y="236.85" width="2.3" height="2.3" fill="#000"/>
<rect x="86.45" y="235.25" width="2.3" height="2.3" fill="#000"/>
<rect x="93.25" y="166.45" width="2.3" height="2.3" fill="#000"/>
<rect x="100.05" y="189.65" width="2.3" height="2.3" fill="#000"/>
<rect x="106.85" y="208.75" width="2.3" height="2.3" fill="#000"/>
<rect x="113.65" y="178.85" width="2.3" height="2.3" fill="#000"/>
<rect x="120.45" y="208.75" width="2.3" height="2.3" fill="#000"/>
<rect x="127.25" y="188.65" width="2.3" height="2.3" fill="#000"/>
<rect x="134.05" y="152.45" width="2.3" height="2.3" fill="#000"/>
<rect x="140.85" y="210.85" width="2.3" height="2.3" fill="#000"/>
<rect x="147.65" y="201.05" width="2.3" height="2.3" fill="#000"/>
<rect x="154.45" y="175.15" width="2.3" height="2.3" fill="#000"/>
<rect x="161.25" y="172.65" width="2.3" height="2.3" fill="#000"/>
<rect x="168.05" y="244.55" width="2.3" height="2.3" fill="#000"/>
<rect x="174.85" y="197.95" width="2.3" height="2.3" fill="#000"/>
<text x="28.20" y="148.60" class="lab">d</text>
<text x="61.0" y="149.8" class="t">y=-0.11x+324.59</text>
<text x="61.0" y="157.7" class="t">R<tspan class="sup" dy="-2">2</tspan><tspan dy="2">=0.002</tspan></text>
<text x="61.0" y="165.1" class="t"><tspan font-style="italic">P</tspan>&gt;0.05</text>
<text x="142.9" y="150.1" class="t">y=-0.352x+815.22</text>
<text x="142.9" y="158.0" class="t">R<tspan class="sup" dy="-2">2</tspan><tspan dy="2">=0.02</tspan></text>
<text x="142.9" y="165.4" class="t"><tspan font-style="italic">P</tspan>&gt;0.05</text>
<text x="119.4" y="230.8" class="t">y=0.05x+4.492</text>
<text x="119.4" y="238.7" class="t">R<tspan class="sup" dy="-2">2</tspan><tspan dy="2">=0.002</tspan></text>
<text x="119.4" y="246.1" class="t"><tspan font-style="italic">P</tspan>&gt;0.05</text>
<path d="M212.80,182.10 L214.50,182.81 L216.20,183.50 L217.90,184.17 L219.60,184.83 L221.30,185.46 L223.00,186.07 L224.70,186.66 L226.40,187.21 L228.10,187.73 L229.80,188.22 L231.50,188.66 L233.20,189.06 L234.90,189.42 L236.60,189.71 L238.30,189.96 L240.00,190.13 L241.70,190.24 L243.40,190.29 L245.10,190.26 L246.80,190.15 L248.50,189.97 L250.20,189.72 L251.90,189.39 L253.60,188.99 L255.30,188.53 L257.00,188.00 L258.70,187.42 L260.40,186.78 L262.10,186.10 L263.80,185.37 L265.50,184.60 L267.20,183.79 L268.90,182.95 L270.60,182.08 L272.30,181.19 L274.00,180.27 L275.70,179.33 L277.40,178.37 L279.10,177.39 L280.80,176.40 L280.80,227.40 L279.10,226.69 L277.40,226.00 L275.70,225.33 L274.00,224.67 L272.30,224.04 L270.60,223.43 L268.90,222.84 L267.20,222.29 L265.50,221.77 L263.80,221.28 L262.10,220.84 L260.40,220.44 L258.70,220.08 L257.00,219.79 L255.30,219.54 L253.60,219.37 L251.90,219.26 L250.20,219.21 L248.50,219.24 L246.80,219.35 L245.10,219.53 L243.40,219.78 L241.70,220.11 L240.00,220.51 L238.30,220.97 L236.60,221.50 L234.90,222.08 L233.20,222.72 L231.50,223.40 L229.80,224.13 L228.10,224.90 L226.40,225.71 L224.70,226.55 L223.00,227.42 L221.30,228.31 L219.60,229.23 L217.90,230.17 L216.20,231.13 L214.50,232.11 L212.80,233.10Z" fill="#ecb9fc"/>
<path d="M287.60,166.60 L289.30,167.60 L291.00,168.58 L292.70,169.53 L294.40,170.47 L296.10,171.38 L297.80,172.26 L299.50,173.11 L301.20,173.93 L302.90,174.71 L304.60,175.44 L306.30,176.14 L308.00,176.78 L309.70,177.36 L311.40,177.89 L313.10,178.35 L314.80,178.74 L316.50,179.06 L318.20,179.30 L319.90,179.47 L321.60,179.55 L323.30,179.55 L325.00,179.47 L326.70,179.32 L328.40,179.08 L330.10,178.77 L331.80,178.40 L333.50,177.96 L335.20,177.46 L336.90,176.90 L338.60,176.29 L340.30,175.64 L342.00,174.95 L343.70,174.22 L345.40,173.45 L347.10,172.65 L348.80,171.83 L350.50,170.98 L352.20,170.11 L353.90,169.21 L355.60,168.30 L355.60,227.70 L353.90,226.70 L352.20,225.72 L350.50,224.77 L348.80,223.83 L347.10,222.92 L345.40,222.04 L343.70,221.19 L342.00,220.37 L340.30,219.59 L338.60,218.86 L336.90,218.16 L335.20,217.52 L333.50,216.94 L331.80,216.41 L330.10,215.95 L328.40,215.56 L326.70,215.24 L325.00,215.00 L323.30,214.83 L321.60,214.75 L319.90,214.75 L318.20,214.83 L316.50,214.98 L314.80,215.22 L313.10,215.53 L311.40,215.90 L309.70,216.34 L308.00,216.84 L306.30,217.40 L304.60,218.01 L302.90,218.66 L301.20,219.35 L299.50,220.08 L297.80,220.85 L296.10,221.65 L294.40,222.47 L292.70,223.32 L291.00,224.19 L289.30,225.09 L287.60,226.00Z" fill="#ffb7b9"/>
<path d="M205.70,142.80 V256.20 H362.40" fill="none" stroke="#808080" stroke-width="1"/>
<path d="M205.20,256.20 h-2" stroke="#808080" stroke-width="0.8"/>
<text x="202.70" y="258.00" class="tky" text-anchor="end">80</text>
<path d="M205.20,231.00 h-2" stroke="#808080" stroke-width="0.8"/>
<text x="202.70" y="232.80" class="tky" text-anchor="end">90</text>
<path d="M205.20,205.80 h-2" stroke="#808080" stroke-width="0.8"/>
<text x="202.70" y="207.60" class="tky" text-anchor="end">100</text>
<path d="M205.20,180.60 h-2" stroke="#808080" stroke-width="0.8"/>
<text x="202.70" y="182.40" class="tky" text-anchor="end">110</text>
<path d="M205.20,155.40 h-2" stroke="#808080" stroke-width="0.8"/>
<text x="202.70" y="157.20" class="tky" text-anchor="end">120</text>
<path d="M205.20,243.60 h-1.3" stroke="#808080" stroke-width="0.7"/>
<path d="M205.20,218.40 h-1.3" stroke="#808080" stroke-width="0.7"/>
<path d="M205.20,193.20 h-1.3" stroke="#808080" stroke-width="0.7"/>
<path d="M205.20,168.00 h-1.3" stroke="#808080" stroke-width="0.7"/>
<path d="M206.00,255.70 v-1.6" stroke="#808080" stroke-width="0.7"/>
<text x="206.00" y="263.20" class="tk" text-anchor="middle">2000</text>
<path d="M240.00,255.70 v-1.6" stroke="#808080" stroke-width="0.7"/>
<text x="240.00" y="263.20" class="tk" text-anchor="middle">2005</text>
<path d="M274.00,255.70 v-1.6" stroke="#808080" stroke-width="0.7"/>
<text x="274.00" y="263.20" class="tk" text-anchor="middle">2010</text>
<path d="M308.00,255.70 v-1.6" stroke="#808080" stroke-width="0.7"/>
<text x="308.00" y="263.20" class="tk" text-anchor="middle">2015</text>
<path d="M342.00,255.70 v-1.6" stroke="#808080" stroke-width="0.7"/>
<text x="342.00" y="263.20" class="tk" text-anchor="middle">2020</text>
<path d="M223.00,255.70 v-1.1" stroke="#808080" stroke-width="0.6"/>
<path d="M257.00,255.70 v-1.1" stroke="#808080" stroke-width="0.6"/>
<path d="M291.00,255.70 v-1.1" stroke="#808080" stroke-width="0.6"/>
<path d="M325.00,255.70 v-1.1" stroke="#808080" stroke-width="0.6"/>
<path d="M359.00,255.70 v-1.1" stroke="#808080" stroke-width="0.6"/>
<line x1="212.80" y1="206.00" x2="355.60" y2="195.00" stroke="#555" stroke-width="0.7" stroke-dasharray="1.8,1.8"/>
<line x1="212.80" y1="207.80" x2="280.80" y2="200.80" stroke="#3cb371" stroke-width="1.3" stroke-dasharray="3.5,3.5"/>
<line x1="287.60" y1="196.70" x2="355.60" y2="198.10" stroke="#ff2a2a" stroke-width="1.3" stroke-dasharray="3.5,3.5"/>
<polyline points="212.80,232.90 219.60,185.00 226.40,209.50 233.20,195.60 240.00,197.70 246.80,201.60 253.60,188.30 260.40,245.10 267.20,202.90 274.00,178.00 280.80,208.40 287.60,196.00 294.40,194.90 301.20,217.80 308.00,202.20 314.80,153.10 321.60,219.80 328.40,207.80 335.20,171.80 342.00,174.90 348.80,228.50 355.60,200.20" fill="none" stroke="#444" stroke-width="0.6"/>
<rect x="211.65" y="231.75" width="2.3" height="2.3" fill="#000"/>
<rect x="218.45" y="183.85" width="2.3" height="2.3" fill="#000"/>
<rect x="225.25" y="208.35" width="2.3" height="2.3" fill="#000"/>
<rect x="232.05" y="194.45" width="2.3" height="2.3" fill="#000"/>
<rect x="238.85" y="196.55" width="2.3" height="2.3" fill="#000"/>
<rect x="245.65" y="200.45" width="2.3" height="2.3" fill="#000"/>
<rect x="252.45" y="187.15" width="2.3" height="2.3" fill="#000"/>
<rect x="259.25" y="243.95" width="2.3" height="2.3" fill="#000"/>
<rect x="266.05" y="201.75" width="2.3" height="2.3" fill="#000"/>
<rect x="272.85" y="176.85" width="2.3" height="2.3" fill="#000"/>
<rect x="279.65" y="207.25" width="2.3" height="2.3" fill="#000"/>
<rect x="286.45" y="194.85" width="2.3" height="2.3" fill="#000"/>
<rect x="293.25" y="193.75" width="2.3" height="2.3" fill="#000"/>
<rect x="300.05" y="216.65" width="2.3" height="2.3" fill="#000"/>
<rect x="306.85" y="201.05" width="2.3" height="2.3" fill="#000"/>
<rect x="313.65" y="151.95" width="2.3" height="2.3" fill="#000"/>
<rect x="320.45" y="218.65" width="2.3" height="2.3" fill="#000"/>
<rect x="327.25" y="206.65" width="2.3" height="2.3" fill="#000"/>
<rect x="334.05" y="170.65" width="2.3" height="2.3" fill="#000"/>
<rect x="340.85" y="173.75" width="2.3" height="2.3" fill="#000"/>
<rect x="347.65" y="227.35" width="2.3" height="2.3" fill="#000"/>
<rect x="354.45" y="199.05" width="2.3" height="2.3" fill="#000"/>
<text x="208.70" y="148.60" class="lab">e</text>
<text x="236.8" y="150.4" class="t">y=0.30x-490.6</text>
<text x="236.8" y="158.3" class="t">R<tspan class="sup" dy="-2">2</tspan><tspan dy="2">=0.015</tspan></text>
<text x="236.8" y="165.7" class="t"><tspan font-style="italic">P</tspan>&gt;0.05</text>
<text x="322.4" y="150.1" class="t">y=-0.079x+262.97</text>
<text x="322.4" y="158.0" class="t">R<tspan class="sup" dy="-2">2</tspan><tspan dy="2">=0.001</tspan></text>
<text x="322.4" y="165.4" class="t"><tspan font-style="italic">P</tspan>&gt;0.05</text>
<text x="295.6" y="235.6" class="t">y=0.22x-332.35</text>
<text x="295.6" y="243.5" class="t">R<tspan class="sup" dy="-2">2</tspan><tspan dy="2">=0.028</tspan></text>
<text x="295.6" y="250.9" class="t"><tspan font-style="italic">P</tspan>&gt;0.05</text>
<path d="M396.90,187.90 L398.60,188.89 L400.30,189.87 L402.00,190.83 L403.70,191.79 L405.40,192.72 L407.10,193.63 L408.80,194.53 L410.50,195.40 L412.20,196.25 L413.90,197.07 L415.60,197.86 L417.30,198.62 L419.00,199.34 L420.70,200.03 L422.40,200.67 L424.10,201.26 L425.80,201.81 L427.50,202.31 L429.20,202.76 L430.90,203.15 L432.60,203.49 L434.30,203.78 L436.00,204.02 L437.70,204.20 L439.40,204.34 L441.10,204.44 L442.80,204.49 L444.50,204.50 L446.20,204.48 L447.90,204.42 L449.60,204.34 L451.30,204.22 L453.00,204.09 L454.70,203.92 L456.40,203.74 L458.10,203.55 L459.80,203.33 L461.50,203.10 L463.20,202.86 L464.90,202.60 L464.90,241.40 L463.20,240.41 L461.50,239.43 L459.80,238.47 L458.10,237.51 L456.40,236.58 L454.70,235.67 L453.00,234.77 L451.30,233.90 L449.60,233.05 L447.90,232.23 L446.20,231.44 L444.50,230.68 L442.80,229.96 L441.10,229.27 L439.40,228.63 L437.70,228.04 L436.00,227.49 L434.30,226.99 L432.60,226.54 L430.90,226.15 L429.20,225.81 L427.50,225.52 L425.80,225.28 L424.10,225.10 L422.40,224.96 L420.70,224.86 L419.00,224.81 L417.30,224.80 L415.60,224.82 L413.90,224.88 L412.20,224.96 L410.50,225.08 L408.80,225.21 L407.10,225.38 L405.40,225.56 L403.70,225.75 L402.00,225.97 L400.30,226.20 L398.60,226.44 L396.90,226.70Z" fill="#ecb9fc"/>
<path d="M471.70,182.40 L473.40,183.58 L475.10,184.74 L476.80,185.89 L478.50,187.01 L480.20,188.11 L481.90,189.19 L483.60,190.23 L485.30,191.24 L487.00,192.21 L488.70,193.14 L490.40,194.03 L492.10,194.86 L493.80,195.64 L495.50,196.35 L497.20,197.00 L498.90,197.56 L500.60,198.05 L502.30,198.46 L504.00,198.77 L505.70,199.00 L507.40,199.13 L509.10,199.18 L510.80,199.13 L512.50,199.00 L514.20,198.80 L515.90,198.51 L517.60,198.16 L519.30,197.74 L521.00,197.27 L522.70,196.74 L524.40,196.17 L526.10,195.56 L527.80,194.91 L529.50,194.23 L531.20,193.51 L532.90,192.77 L534.60,192.01 L536.30,191.22 L538.00,190.42 L539.70,189.60 L539.70,247.60 L538.00,246.42 L536.30,245.26 L534.60,244.11 L532.90,242.99 L531.20,241.89 L529.50,240.81 L527.80,239.77 L526.10,238.76 L524.40,237.79 L522.70,236.86 L521.00,235.97 L519.30,235.14 L517.60,234.36 L515.90,233.65 L514.20,233.00 L512.50,232.44 L510.80,231.95 L509.10,231.54 L507.40,231.23 L505.70,231.00 L504.00,230.87 L502.30,230.82 L500.60,230.87 L498.90,231.00 L497.20,231.20 L495.50,231.49 L493.80,231.84 L492.10,232.26 L490.40,232.73 L488.70,233.26 L487.00,233.83 L485.30,234.44 L483.60,235.09 L481.90,235.77 L480.20,236.49 L478.50,237.23 L476.80,237.99 L475.10,238.78 L473.40,239.58 L471.70,240.40Z" fill="#ffb7b9"/>
<path d="M389.80,142.30 V255.80 H546.50" fill="none" stroke="#808080" stroke-width="1"/>
<path d="M389.30,249.30 h-2" stroke="#808080" stroke-width="0.8"/>
<text x="386.80" y="251.10" class="tky" text-anchor="end">40</text>
<path d="M389.30,222.60 h-2" stroke="#808080" stroke-width="0.8"/>
<text x="386.80" y="224.40" class="tky" text-anchor="end">50</text>
<path d="M389.30,195.90 h-2" stroke="#808080" stroke-width="0.8"/>
<text x="386.80" y="197.70" class="tky" text-anchor="end">60</text>
<path d="M389.30,169.20 h-2" stroke="#808080" stroke-width="0.8"/>
<text x="386.80" y="171.00" class="tky" text-anchor="end">70</text>
<path d="M389.30,142.50 h-2" stroke="#808080" stroke-width="0.8"/>
<text x="386.80" y="144.30" class="tky" text-anchor="end">80</text>
<path d="M389.30,235.90 h-1.3" stroke="#808080" stroke-width="0.7"/>
<path d="M389.30,209.20 h-1.3" stroke="#808080" stroke-width="0.7"/>
<path d="M389.30,182.50 h-1.3" stroke="#808080" stroke-width="0.7"/>
<path d="M389.30,155.80 h-1.3" stroke="#808080" stroke-width="0.7"/>
<path d="M390.10,255.30 v-1.6" stroke="#808080" stroke-width="0.7"/>
<text x="390.10" y="262.80" class="tk" text-anchor="middle">2000</text>
<path d="M424.10,255.30 v-1.6" stroke="#808080" stroke-width="0.7"/>
<text x="424.10" y="262.80" class="tk" text-anchor="middle">2005</text>
<path d="M458.10,255.30 v-1.6" stroke="#808080" stroke-width="0.7"/>
<text x="458.10" y="262.80" class="tk" text-anchor="middle">2010</text>
<path d="M492.10,255.30 v-1.6" stroke="#808080" stroke-width="0.7"/>
<text x="492.10" y="262.80" class="tk" text-anchor="middle">2015</text>
<path d="M526.10,255.30 v-1.6" stroke="#808080" stroke-width="0.7"/>
<text x="526.10" y="262.80" class="tk" text-anchor="middle">2020</text>
<path d="M407.10,255.30 v-1.1" stroke="#808080" stroke-width="0.6"/>
<path d="M441.10,255.30 v-1.1" stroke="#808080" stroke-width="0.6"/>
<path d="M475.10,255.30 v-1.1" stroke="#808080" stroke-width="0.6"/>
<path d="M509.10,255.30 v-1.1" stroke="#808080" stroke-width="0.6"/>
<path d="M543.10,255.30 v-1.1" stroke="#808080" stroke-width="0.6"/>
<line x1="396.90" y1="211.50" x2="539.70" y2="217.00" stroke="#555" stroke-width="0.7" stroke-dasharray="1.8,1.8"/>
<line x1="396.90" y1="207.30" x2="464.90" y2="221.80" stroke="#3cb371" stroke-width="1.3" stroke-dasharray="3.5,3.5"/>
<line x1="471.70" y1="211.70" x2="539.70" y2="218.50" stroke="#ff2a2a" stroke-width="1.3" stroke-dasharray="3.5,3.5"/>
<polyline points="396.90,221.80 403.70,190.80 410.50,229.00 417.30,197.80 424.10,214.40 430.90,206.70 437.70,207.80 444.50,216.00 451.30,247.20 458.10,210.90 464.90,219.60 471.70,218.60 478.50,221.70 485.30,236.60 492.10,215.90 498.90,156.00 505.70,204.90 512.50,215.90 519.30,233.90 526.10,214.80 532.90,211.70 539.70,235.90" fill="none" stroke="#444" stroke-width="0.6"/>
<rect x="395.75" y="220.65" width="2.3" height="2.3" fill="#000"/>
<rect x="402.55" y="189.65" width="2.3" height="2.3" fill="#000"/>
<rect x="409.35" y="227.85" width="2.3" height="2.3" fill="#000"/>
<rect x="416.15" y="196.65" width="2.3" height="2.3" fill="#000"/>
<rect x="422.95" y="213.25" width="2.3" height="2.3" fill="#000"/>
<rect x="429.75" y="205.55" width="2.3" height="2.3" fill="#000"/>
<rect x="436.55" y="206.65" width="2.3" height="2.3" fill="#000"/>
<rect x="443.35" y="214.85" width="2.3" height="2.3" fill="#000"/>
<rect x="450.15" y="246.05" width="2.3" height="2.3" fill="#000"/>
<rect x="456.95" y="209.75" width="2.3" height="2.3" fill="#000"/>
<rect x="463.75" y="218.45" width="2.3" height="2.3" fill="#000"/>
<rect x="470.55" y="217.45" width="2.3" height="2.3" fill="#000"/>
<rect x="477.35" y="220.55" width="2.3" height="2.3" fill="#000"/>
<rect x="484.15" y="235.45" width="2.3" height="2.3" fill="#000"/>
<rect x="490.95" y="214.75" width="2.3" height="2.3" fill="#000"/>
<rect x="497.75" y="154.85" width="2.3" height="2.3" fill="#000"/>
<rect x="504.55" y="203.75" width="2.3" height="2.3" fill="#000"/>
<rect x="511.35" y="214.75" width="2.3" height="2.3" fill="#000"/>
<rect x="518.15" y="232.75" width="2.3" height="2.3" fill="#000"/>
<rect x="524.95" y="213.65" width="2.3" height="2.3" fill="#000"/>
<rect x="531.75" y="210.55" width="2.3" height="2.3" fill="#000"/>
<rect x="538.55" y="234.75" width="2.3" height="2.3" fill="#000"/>
<text x="392.70" y="148.60" class="lab">f</text>
<text x="415.9" y="150.1" class="t">y=-0.529x+1114.8</text>
<text x="415.9" y="158.0" class="t">R<tspan class="sup" dy="-2">2</tspan><tspan dy="2">=0.095</tspan></text>
<text x="415.9" y="165.4" class="t"><tspan font-style="italic">P</tspan>&gt;0.05</text>
<text x="502.4" y="151.0" class="t">y=-0.274x+604.75</text>
<text x="502.4" y="158.9" class="t">R<tspan class="sup" dy="-2">2</tspan><tspan dy="2">=0.012</tspan></text>
<text x="502.4" y="166.3" class="t"><tspan font-style="italic">P</tspan>&gt;0.05</text>
<text x="403.1" y="235.8" class="t">y=-0.11x+270.37</text>
<text x="403.1" y="243.7" class="t">R<tspan class="sup" dy="-2">2</tspan><tspan dy="2">=-0.01</tspan></text>
<text x="403.1" y="251.1" class="t"><tspan font-style="italic">P</tspan>&gt;0.05</text>
<text transform="translate(10.6,61.9) rotate(-90)" text-anchor="middle" class="yt">NPP(gC·m<tspan class="sup2" dy="-2.6">-2</tspan><tspan dy="2.6">·a</tspan><tspan class="sup2" dy="-2.6">-1</tspan><tspan dy="2.6">)</tspan></text>
<text transform="translate(10.6,198.0) rotate(-90)" text-anchor="middle" class="yt">NPP(gC·m<tspan class="sup2" dy="-2.6">-2</tspan><tspan dy="2.6">·a</tspan><tspan class="sup2" dy="-2.6">-1</tspan><tspan dy="2.6">)</tspan></text>
<text x="104.5" y="275" class="yr" text-anchor="middle">year</text>
<text x="284.5" y="275" class="yr" text-anchor="middle">year</text>
<text x="468.6" y="275" class="yr" text-anchor="middle">year</text>
<rect x="117.6" y="278.2" width="16.8" height="7.6" fill="#ecb9fc"/>
<text x="134.9" y="285.2" class="lg" textLength="148" lengthAdjust="spacingAndGlyphs">The 95% confidence interval during 2001-2011</text>
<rect x="288" y="278.2" width="16.9" height="7.6" fill="#ffb7b9"/>
<text x="305.6" y="285.2" class="lg" textLength="148" lengthAdjust="spacingAndGlyphs">The 95% confidence interval during 2012-2022</text>
</svg>
</body></html>
